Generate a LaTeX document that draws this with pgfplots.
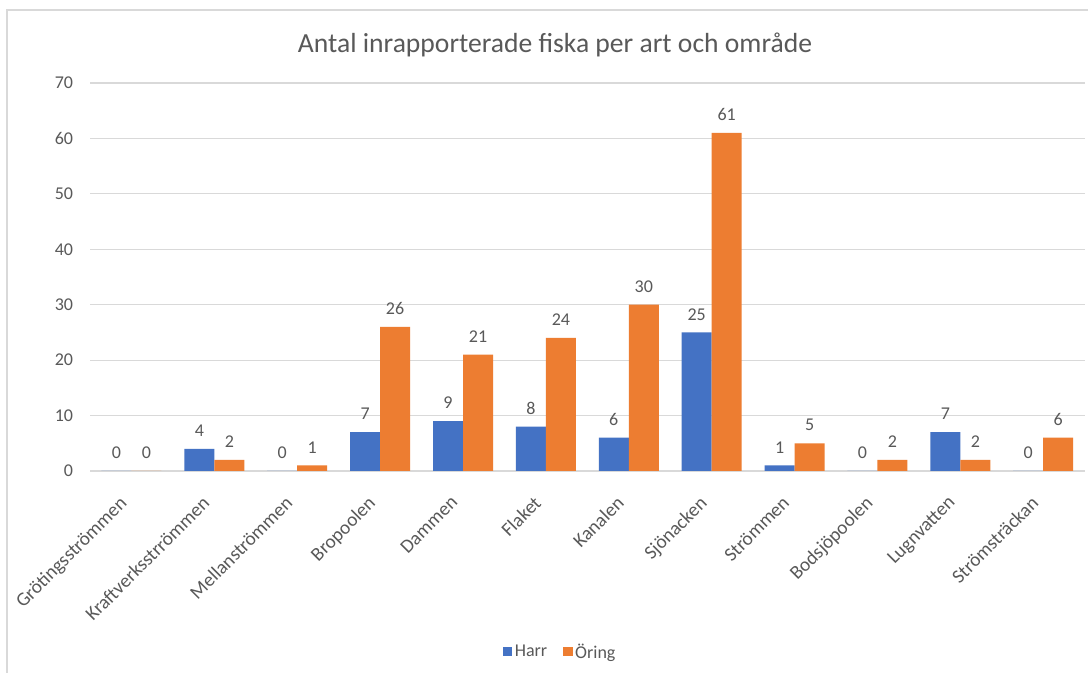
\documentclass[border=0pt]{standalone}
\usepackage{pgfplots}
\pgfplotsset{compat=1.18}
\usepackage{fontspec}
\setmainfont{Carlito}
\definecolor{harr}{HTML}{4472C4}
\definecolor{oring}{HTML}{ED7D31}
\definecolor{txt}{HTML}{595959}
\definecolor{gridc}{HTML}{D9D9D9}
\begin{document}
\begin{tikzpicture}
\path[use as bounding box] (0pt,0pt) rectangle (816pt,504.75pt);
\fill[white] (0pt,0pt) rectangle (816pt,504.75pt);
\draw[gridc, line width=1.2pt] (5.25pt,0pt) -- (5.25pt,497.25pt) -- (818pt,497.25pt);
\node[txt, font=\fontsize{20.7}{24}\selectfont] at (416.25pt,471pt) {Antal inrapporterade fiska per art och område};
\begin{axis}[
  at={(67.5pt,151.5pt)}, anchor=south west,
  scale only axis, width=746pt, height=291pt,
  xmin=-0.5, xmax=11.5, ymin=0, ymax=70,
  ytick={0,10,...,70},
  xtick={0,...,11},
  xticklabels={Grötingsströmmen,Kraftverksstrrömmen,Mellanströmmen,Bropoolen,Dammen,Flaket,Kanalen,Sjönacken,Strömmen,Bodsjöpoolen,Lugnvatten,Strömsträckan},
  /pgf/number format/assume math mode=true,
  ticklabel style={font=\fontsize{13.5}{16}\selectfont, text=txt},
  yticklabel style={inner sep=0pt, xshift=-12.5pt},
  xticklabel style={font=\fontsize{14.5}{16}\selectfont, rotate=45, anchor=north east, inner sep=0pt, xshift=-16.5pt, yshift=-2.5pt},
  axis line style={draw=none},
  tick style={draw=none},
  ymajorgrids, grid style={gridc, line width=0.9pt},
  ybar=0pt, bar width=22.5pt,
  nodes near coords,
  every node near coord/.append style={font=\fontsize{13.5}{16}\selectfont, text=txt, anchor=south, inner sep=0pt, yshift=9pt},
  legend style={at={(0.473,-0.466)}, anchor=center, draw=none, legend columns=-1, font=\fontsize{13.5}{16}\selectfont, text=txt, /tikz/every even column/.append style={column sep=10pt}},
  legend image code/.code={\fill[#1] (0pt,-3.5pt) rectangle (7pt,3.5pt);},
]
\addplot[fill=harr, draw=none] coordinates {(0,0) (1,4) (2,0) (3,7) (4,9) (5,8) (6,6) (7,25) (8,1) (9,0) (10,7) (11,0)};
\addplot[fill=oring, draw=none] coordinates {(0,0) (1,2) (2,1) (3,26) (4,21) (5,24) (6,30) (7,61) (8,5) (9,2) (10,2) (11,6)};
\legend{Harr,Öring}
\end{axis}
\end{tikzpicture}
\end{document}
